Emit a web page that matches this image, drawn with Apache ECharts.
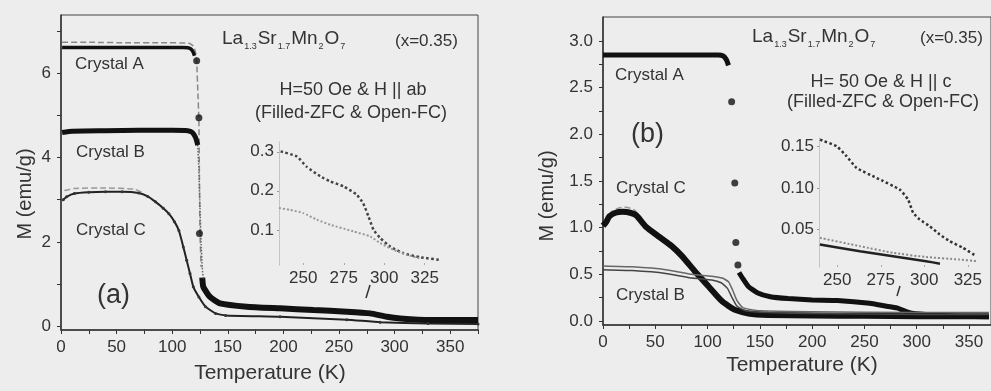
<!DOCTYPE html>
<html>
<head>
<meta charset="utf-8">
<script src="https://cdn.jsdelivr.net/npm/echarts@6/dist/echarts.min.js"></script>
<style>
  html, body { margin: 0; padding: 0; background: #ededed; }
  #chart { width: 991px; height: 391px; }
</style>
</head>
<body>
<div id="chart"></div>
<script>
// ---- panel (a): H || ab, [T (K), M (emu/g)] ----
const aCrystalA_zfc = [[1,6.62],[20,6.62],[40,6.62],[60,6.62],[80,6.62],[100,6.62],[110,6.62],[114,6.61],[117,6.58],[119,6.5],[120,6.42]];
const aCrystalA_fc = [[1,6.74],[30,6.74],[60,6.73],[90,6.73],[115,6.72],[119,6.65],[121,6.5],[122,6.3],[123,5.6],[124,4.9],[124.5,3.5],[125,2.2],[126,1.4]];
const aCrystalA_drop = [[122,6.3],[124,4.95],[124.5,2.2]];
const aCrystalA_tail = [[127,1.15],[128,0.93],[134,0.69],[143,0.54],[167,0.46],[197,0.42],[227,0.38],[257,0.34],[278,0.30],[293,0.22],[305,0.18],[332,0.14],[375,0.14]];
const aCrystalB_zfc = [[1,4.6],[10,4.63],[40,4.64],[70,4.65],[100,4.65],[114,4.64],[118,4.6],[121,4.48],[123,4.3]];
const aCrystalB_fc = [[123,4.3],[124,3.7],[125,2.8],[126,2.0],[127,1.4],[128,1.1]];
const aCrystalC_zfc = [[2,3.0],[5,3.07],[12,3.15],[25,3.18],[40,3.19],[55,3.19],[70,3.16],[78,3.08],[85,2.95],[92,2.8],[97,2.67],[102,2.48],[106,2.27],[110,1.88],[113,1.56],[116,1.25],[119,0.93],[124,0.69],[130,0.46],[139,0.30],[148,0.25],[197,0.22],[257,0.15],[287,0.09],[330,0.06],[375,0.05]];
const aCrystalC_fc = [[3,3.22],[12,3.27],[40,3.28],[66,3.25],[75,3.15]];
// inset (a)
const insetA_fc = [[236,0.301],[246,0.288],[252,0.262],[260.5,0.237],[266.7,0.224],[275,0.211],[283,0.19],[287,0.168],[290.3,0.134],[293.4,0.1],[297.5,0.079],[303.7,0.057],[312,0.04],[322,0.03],[334.6,0.023]];
const insetA_zfc = [[235,0.156],[242,0.151],[250,0.143],[258.4,0.126],[266.7,0.113],[281,0.096],[291.4,0.083],[297.5,0.066],[305.7,0.049],[314,0.036],[322,0.027]];

// ---- panel (b): H || c ----
const bCrystalA_zfc = [[0,2.85],[30,2.85],[60,2.85],[90,2.85],[110,2.85],[115,2.84],[118,2.8],[120,2.74]];
const bCrystalA_drop = [[123,2.35],[126,1.48],[127,0.84],[129,0.6]];
const bCrystalA_tail = [[130,0.52],[134,0.45],[139,0.37],[148,0.30],[160,0.26],[177,0.24],[200,0.225],[224,0.22],[255,0.19],[270,0.16],[281,0.14],[290,0.1],[297,0.08],[318,0.064],[340,0.05],[369,0.045]];
const bCrystalC_zfc = [[0,1.02],[3,1.06],[6,1.12],[12,1.16],[19,1.17],[26,1.16],[32,1.13],[41,1.01],[54,0.9],[66,0.8],[76,0.69],[88,0.53],[101,0.37],[113,0.22],[120,0.16],[126,0.12],[139,0.08],[158,0.065],[200,0.06],[250,0.055],[300,0.05],[369,0.05]];
const bCrystalC_fc = [[2,1.05],[8,1.17],[15,1.21],[22,1.22],[30,1.19],[37,1.1]];
const bCrystalB_zfc = [[0,0.55],[28,0.54],[60,0.51],[85,0.46],[104,0.44],[113,0.41],[119,0.35],[123,0.26],[128,0.16],[136,0.11],[158,0.09],[200,0.08],[300,0.07],[369,0.07]];
const bCrystalB_fc = [[0,0.59],[28,0.58],[60,0.55],[85,0.5],[104,0.48],[114,0.46],[120,0.42],[124,0.33],[128,0.22],[134,0.14],[150,0.11],[200,0.1],[300,0.09],[369,0.09]];
// inset (b)
const insetB_upper = [[240.1,0.158],[249.7,0.15],[255.4,0.138],[261.1,0.124],[272.6,0.112],[285.9,0.098],[290.7,0.086],[293.6,0.07],[297.4,0.062],[303.1,0.054],[308.9,0.044],[314.6,0.036],[322.2,0.028],[329.9,0.018]];
const insetB_zfc = [[240,0.032],[263,0.024],[282,0.018],[301,0.012],[309,0.009]];
const insetB_fc = [[240,0.04],[263,0.03],[282,0.022],[301,0.017],[320,0.014],[330,0.012]];

// tick values
const aXLabels = [0,50,100,150,200,250,300,350];
const aXTicks = [0,25,50,75,100,125,150,175,200,225,250,275,300,325,350,375];
const aYLabels = [0,2,4,6];
const aYTicks = [0,1,2,3,4,5,6,7];
const bXLabels = [0,50,100,150,200,250,300,350];
const bXTicks = [0,25,50,75,100,125,150,175,200,225,250,275,300,325,350];
const bYLabels = [0,0.5,1,1.5,2,2.5,3];
const bYTicks = [0,0.25,0.5,0.75,1,1.25,1.5,1.75,2,2.25,2.5,2.75,3];
const insetXLabels = [250,275,300,325];
const insetAYLabels = [0.1,0.2,0.3];
const insetBYLabels = [0.05,0.10,0.15];

const FONT = 'Liberation Sans';
const TXT = '#333';

function mainX(idx, min, max, labels, ticks) {
  return {
    type: 'value', gridIndex: idx, min: min, max: max,
    axisLine: { show: true, onZero: false, lineStyle: { color: '#333', width: 1.5 } },
    axisTick: { show: true, inside: false, length: 4, customValues: ticks, lineStyle: { color: '#333' } },
    axisLabel: { customValues: labels, margin: 9, fontSize: 17, color: TXT, fontFamily: FONT },
    splitLine: { show: false }
  };
}
function mainY(idx, min, max, labels, ticks, fmt) {
  return {
    type: 'value', gridIndex: idx, min: min, max: max,
    axisLine: { show: true, onZero: false, lineStyle: { color: '#333', width: 1.5 } },
    axisTick: { show: true, inside: false, length: 4, customValues: ticks, lineStyle: { color: '#333' } },
    axisLabel: { customValues: labels, margin: 10, fontSize: 17, color: TXT, fontFamily: FONT, formatter: fmt },
    splitLine: { show: false }
  };
}
function insetX(idx, min, max) {
  return {
    type: 'value', gridIndex: idx, min: min, max: max,
    axisLine: { show: false },
    axisTick: { show: true, inside: true, length: 2, customValues: insetXLabels, lineStyle: { color: '#aaa' } },
    axisLabel: { customValues: insetXLabels, margin: 5, fontSize: 17, color: TXT, fontFamily: FONT },
    splitLine: { show: false }
  };
}
function insetY(idx, min, max, labels, fmt) {
  return {
    type: 'value', gridIndex: idx, min: min, max: max,
    axisLine: { show: true, onZero: false, lineStyle: { color: '#bbb', type: 'dotted' } },
    axisTick: { show: true, length: 2, customValues: labels, lineStyle: { color: '#999' } },
    axisLabel: { customValues: labels, margin: 5, fontSize: 17, color: TXT, fontFamily: FONT, formatter: fmt },
    splitLine: { show: false }
  };
}
function line(idx, data, color, width, type) {
  return {
    type: 'line', xAxisIndex: idx, yAxisIndex: idx, data: data,
    showSymbol: false, smooth: 0.15, z: 3,
    lineStyle: { color: color, width: width, type: type || 'solid' }
  };
}
function dots(idx, data, size) {
  return {
    type: 'scatter', xAxisIndex: idx, yAxisIndex: idx, data: data,
    symbolSize: size, itemStyle: { color: '#111' }, z: 4
  };
}
function txt(x, y, text, size, align, extra) {
  return Object.assign({
    type: 'text', x: x, y: y, z: 10,
    style: { text: text, fontSize: size, fontFamily: FONT, fill: TXT, align: align || 'left', verticalAlign: 'middle' }
  }, extra || {});
}
function formula(x, y) {
  return {
    type: 'text', x: x, y: y, z: 10,
    style: {
      text: 'La{s|1.3}Sr{s|1.7}Mn{s|2}O{s|7}',
      fontSize: 19, fontFamily: FONT, fill: TXT, verticalAlign: 'middle',
      rich: {
        s: { fontSize: 9, fontFamily: FONT, fill: TXT, padding: [15, 1, 0, 1] }
      }
    }
  };
}

const chart = echarts.init(document.getElementById('chart'));
chart.setOption({
  animation: false,
  backgroundColor: '#ededed',
  grid: [
    { left: 61, top: 15, width: 417, height: 315, show: true, borderColor: '#444', borderWidth: 1 },
    { left: 279, top: 142, width: 170, height: 123 },
    { left: 603, top: 17, width: 392, height: 308, show: true, borderColor: '#444', borderWidth: 1 },
    { left: 819, top: 138, width: 161, height: 129 }
  ],
  xAxis: [
    mainX(0, 0, 375, aXLabels, aXTicks),
    insetX(1, 235, 340),
    mainX(2, 0, 371, bXLabels, bXTicks),
    insetX(3, 239.5, 332)
  ],
  yAxis: [
    mainY(0, -0.095, 7.39, aYLabels, aYTicks, v => String(v)),
    insetY(1, 0.01, 0.325, insetAYLabels, v => v.toFixed(1)),
    mainY(2, -0.043, 3.258, bYLabels, bYTicks, v => v.toFixed(1)),
    insetY(3, 0.005, 0.16, insetBYLabels, v => v.toFixed(2))
  ],
  series: [
    // (a)
    line(0, aCrystalA_fc, '#888', 1.5, 'dashed'),
    line(0, aCrystalA_zfc, '#111', 3.5),
    dots(0, aCrystalA_drop, 7),
    line(0, aCrystalA_tail, '#111', 6),
    line(0, aCrystalB_fc, '#666', 1.5, 'dotted'),
    line(0, aCrystalB_zfc, '#111', 5),
    line(0, aCrystalC_fc, '#999', 1.5, 'dashed'),
    Object.assign(line(0, aCrystalC_zfc, '#222', 2), { showSymbol: true, symbol: 'circle', symbolSize: 3, itemStyle: { color: '#333' } }),
    line(1, insetA_fc, '#444', 2.5, 'dotted'),
    line(1, insetA_zfc, '#999', 2, 'dotted'),
    // (b)
    line(2, bCrystalA_zfc, '#111', 5),
    dots(2, bCrystalA_drop, 7),
    line(2, bCrystalA_tail, '#111', 5),
    line(2, bCrystalC_fc, '#999', 1.5, 'dashed'),
    line(2, bCrystalC_zfc, '#111', 6),
    line(2, bCrystalB_fc, '#666', 1.5),
    line(2, bCrystalB_zfc, '#444', 1.5),
    line(3, insetB_upper, '#333', 2.5, 'dotted'),
    line(3, insetB_fc, '#888', 2, 'dotted'),
    line(3, insetB_zfc, '#222', 2.5)
  ],
  graphic: [
    // panel (a)
    formula(222, 39),
    txt(395, 41, '(x=0.35)', 17),
    txt(353, 90, 'H=50 Oe & H || ab', 18, 'center'),
    txt(351, 113, '(Filled-ZFC & Open-FC)', 18, 'center'),
    txt(75, 64, 'Crystal A', 17),
    txt(76, 152, 'Crystal B', 17),
    txt(76, 230, 'Crystal C', 17),
    txt(97, 296, '(a)', 27),
    txt(25, 194, 'M (emu/g)', 20, 'center', { rotation: Math.PI / 2 }),
    txt(270, 373, 'Temperature (K)', 21, 'center'),
    { type: 'line', z: 10, shape: { x1: 370, y1: 285, x2: 366, y2: 298 }, style: { stroke: '#333', lineWidth: 1.5 } },
    // panel (b)
    formula(752, 37),
    txt(920, 38, '(x=0.35)', 17),
    txt(881, 82, 'H= 50 Oe & H || c', 18, 'center'),
    txt(883, 102, '(Filled-ZFC & Open-FC)', 18, 'center'),
    txt(615, 75, 'Crystal A', 17),
    txt(631, 135, '(b)', 27),
    txt(616, 188, 'Crystal C', 17),
    txt(616, 295, 'Crystal B', 17),
    txt(547, 196, 'M (emu/g)', 20, 'center', { rotation: Math.PI / 2 }),
    txt(802, 365, 'Temperature (K)', 21, 'center'),
    { type: 'line', z: 10, shape: { x1: 900, y1: 286, x2: 897, y2: 296 }, style: { stroke: '#333', lineWidth: 1.5 } }
  ]
});
</script>
</body>
</html>
